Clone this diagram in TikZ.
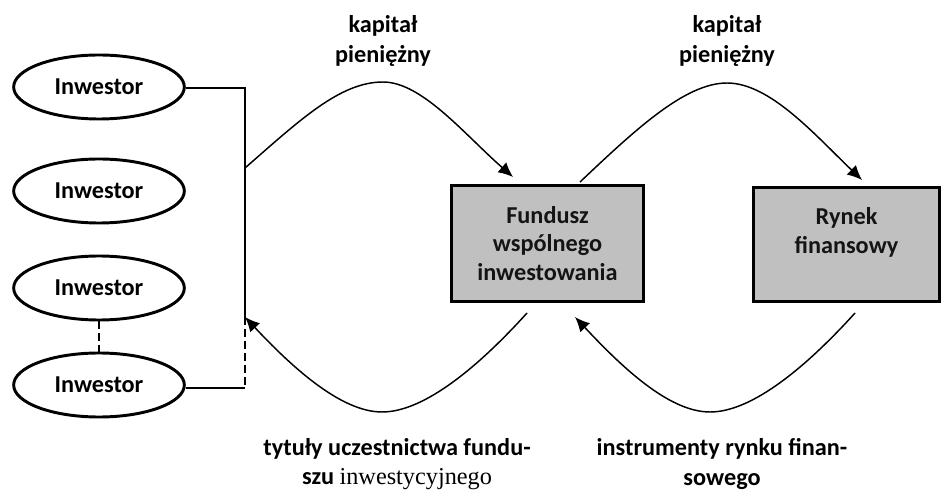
\documentclass[tikz,border=0pt]{standalone}
\usepackage{fontspec}
\setmainfont{Carlito}
\newfontfamily\serifword{Liberation Serif}
\usetikzlibrary{arrows.meta}
\usetikzlibrary{shapes.geometric}
\definecolor{BoxGray}{RGB}{192,192,192}
\definecolor{TextBlack}{RGB}{20,20,20}
\tikzset{
	inv/.style={ellipse, draw=black, line width=2.2pt, minimum width=128pt, minimum height=48pt, inner sep=0pt, font=\bfseries\fontsize{18.2}{21.5}\selectfont},
	box/.style={rectangle, draw=black, fill=BoxGray, line width=2.2pt, align=center, inner sep=0pt, text=TextBlack, font=\bfseries\fontsize{18.2}{21.5}\selectfont},
	bus/.style={line width=1.1pt, draw=black},
	dashbus/.style={line width=1.1pt, draw=black, dash pattern=on 6pt off 3pt},
	flow/.style={line width=1.1pt, draw=black, -{Latex[length=11pt,width=10pt]}},
	lab/.style={align=center, inner sep=0pt, font=\bfseries\fontsize{18.2}{22}\selectfont}
}
\begin{document}
\begin{tikzpicture}[x=0.75pt, y=-0.75pt]
		\useasboundingbox (0,0) rectangle (942,491);
		% inwestorzy
		\node[inv] (inv1) at (99,87) {Inwestor};
		\node[inv] (inv2) at (99,191) {Inwestor};
		\node[inv] (inv3) at (99,288) {Inwestor};
		\node[inv] (inv4) at (99,385) {Inwestor};
		% fundusz i rynek
		\node[box, minimum width=144pt, minimum height=87pt] (fund) at (547.5,243.5)
		{Fundusz\\ wspólnego\\ inwestowania};
		\node[box, minimum width=139pt, minimum height=86pt] (rynek) at (846.5,244.5)
		{Rynek\\ finansowy\\ ~};
		% szyna
		\coordinate (b1) at (245,88);
		\coordinate (b4) at (245,388);
		\coordinate (bout) at (245,168);
		\coordinate (bin) at (245,317);
		\draw[bus] (inv1.east |- b1) -- (b1) -- (bin);
		\draw[dashbus] (bin) -- (b4);
		\draw[bus] (inv4.east |- b4) -- (b4);
		\draw[dashbus] (inv3.south) -- (inv4.north);
		% przeplywy
		\coordinate (fin) at (513,177);
		\coordinate (fout) at (580,182);
		\coordinate (rin) at (862,180);
		\coordinate (rout) at (855,313);
		\coordinate (fret) at (575,317);
		\coordinate (fsend) at (527,313);
		\draw[flow] (bout) .. controls (300,120) and (340,82) .. (383,82)
		.. controls (422,82) and (465,135) .. (fin);
		\draw[flow] (fout) .. controls (635,130) and (685,83) .. (727,83)
		.. controls (770,83) and (815,135) .. (rin);
		\draw[flow] (fsend) .. controls (480,365) and (425,412) .. (382,412)
		.. controls (340,412) and (290,365) .. (bin);
		\draw[flow] (rout) .. controls (808,365) and (753,412) .. (710,412)
		.. controls (668,412) and (620,365) .. (fret);
		% opisy
		\node[lab] (k1) at (383,41) {kapitał\\ pieniężny};
		\node[lab] (k2) at (727,41) {kapitał\\ pieniężny};
		\node[lab] (t1) at (397,464) {tytuły uczestnictwa fundu-\\ szu {\mdseries\serifword inwestycyjnego}};
		\node[lab] (t2) at (722,464) {instrumenty rynku finan-\\ sowego};
	\end{tikzpicture}
\end{document}
